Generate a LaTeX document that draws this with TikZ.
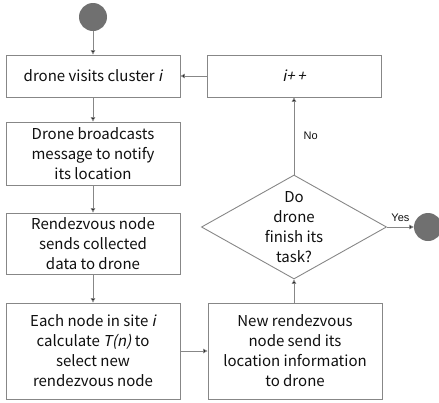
\documentclass[tikz,border=0pt]{standalone}
\usepackage{fontspec}
\setmainfont{Noto Sans CJK KR}[AutoFakeSlant=0.2]
\newfontfamily\arialfont{Liberation Sans}
\usetikzlibrary{shapes.geometric,arrows.meta}
\definecolor{lineg}{RGB}{135,135,135}
\definecolor{circg}{RGB}{112,112,112}
\definecolor{txt}{RGB}{15,15,15}
\begin{document}
\begin{tikzpicture}[x=1pt,y=-1pt,
  box/.style={draw=lineg,line width=0.9pt,minimum width=174pt,minimum height=42pt,align=center,inner sep=0pt,text=txt,font=\fontsize{15}{20}\selectfont},
  dot/.style={circle,fill=circg,minimum size=28pt,inner sep=0pt},
  conn/.style={draw=lineg,line width=0.8pt,-{Triangle[length=4.5pt,width=4.5pt,fill=black]}},
  lbl/.style={font=\arialfont\fontsize{11}{13}\selectfont,text=txt}]
\useasboundingbox (0,0) rectangle (439,402);
\node[dot] (start) at (93,17) {};
\node[box] (b1) at (93,76) {drone visits cluster \textit{i}};
\node[box,minimum height=63pt] (b2) at (93,153.5) {Drone broadcasts\\message to notify\\its location};
\node[box,minimum height=61pt] (b3) at (93,243.5) {Rendezvous node\\sends collected\\data to drone};
\node[box,minimum height=96pt] (b4) at (93,351) {Each node in site \textit{i}\\calculate \textit{T(n)} to\\select new\\rendezvous node};
\node[box] (inc) at (294,76) {\textit{i+\,+}};
\node[box,minimum height=96pt] (b5) at (295,351) {New rendezvous\\node send its\\location information\\to drone};
\node[diamond,draw=lineg,line width=0.9pt,minimum width=175pt,minimum height=98pt,inner sep=0pt,aspect=1.78,text=txt,align=center,font=\fontsize{15}{20}\selectfont] (dec) at (294,227) {Do\\drone\\finish its\\task?};
\node[dot] (end) at (428,227) {};
\draw[conn] (start) -- (b1);
\draw[conn] (b1) -- (b2);
\draw[conn] (b2) -- (b3);
\draw[conn] (b3) -- (b4);
\draw[conn] (b4) -- (b5);
\draw[conn] (b5.north -| dec.south) -- (dec.south);
\draw[conn] (dec.north) -- node[lbl,right=6pt] {No} (inc.south -| dec.north);
\draw[conn] (dec.east) -- node[lbl,above=2pt] {Yes} (end.west);
\draw[conn] (inc) -- (b1);
\end{tikzpicture}
\end{document}
